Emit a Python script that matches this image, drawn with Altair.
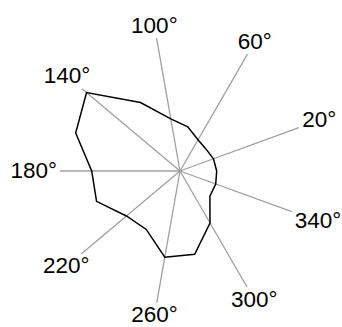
import altair as alt
import pandas as pd

# Radial profile sampled every 20 degrees (0 = east, counter-clockwise)
profile_angles = [0, 20, 40, 60, 80, 100, 120, 140, 160, 180,
                  200, 220, 240, 260, 280, 300, 320, 340]
profile_values = [36.7, 35.6, 34, 36, 44.8, 53, 79, 122, 111, 88.3,
                  88.8, 70, 67.5, 87.6, 84.5, 60, 39, 38]

# Labelled spokes and how far each one reaches
spoke_angles = [20, 60, 100, 140, 180, 220, 260, 300, 340]
spoke_extent = [126.5, 135, 135, 128, 120, 129, 134, 134, 119]
spoke_labels = [f"{a}\u00b0" for a in spoke_angles]

W, H = 342, 327
CX, CY = 180, 171  # pole position inside the view

# close the ring by repeating the first sample
profile = pd.DataFrame({
    "angle": profile_angles + [profile_angles[0]],
    "r": profile_values + [profile_values[0]],
    "order": list(range(len(profile_angles) + 1)),
})
spokes = pd.DataFrame({"angle": spoke_angles, "r": spoke_extent, "label": spoke_labels})

xs = alt.Scale(domain=[-CX, W - CX], range=[0, W], nice=False, zero=False)
ys = alt.Scale(domain=[CY - H, CY], range=[H, 0], nice=False, zero=False)

to_xy = dict(
    x="datum.r * cos(datum.angle * PI / 180)",
    y="datum.r * sin(datum.angle * PI / 180)",
)

spoke_base = alt.Chart(spokes).transform_calculate(
    **to_xy, x0="0", y0="0"
)

rules = spoke_base.mark_rule(color="#a0a0a0", strokeWidth=1.3).encode(
    x=alt.X("x0:Q", scale=xs, axis=None),
    y=alt.Y("y0:Q", scale=ys, axis=None),
    x2="x:Q",
    y2="y:Q",
)

# push each label outward until its box clears the spoke tip
labels = spoke_base.transform_calculate(
    c="cos(datum.angle * PI / 180)",
    s="sin(datum.angle * PI / 180)",
).transform_calculate(
    t="min((5.8 * length(datum.label) + 3) / abs(datum.c), 12.5 / abs(datum.s))"
).transform_calculate(
    lx="datum.x + datum.t * datum.c",
    ly="datum.y + datum.t * datum.s",
).mark_text(
    font="Liberation Sans", fontSize=22.5, color="black",
    align="center", baseline="middle",
).encode(
    x=alt.X("lx:Q", scale=xs, axis=None),
    y=alt.Y("ly:Q", scale=ys, axis=None),
    text="label:N",
)

ring = alt.Chart(profile).transform_calculate(**to_xy).mark_line(
    color="black", strokeWidth=1.5
).encode(
    x=alt.X("x:Q", scale=xs, axis=None),
    y=alt.Y("y:Q", scale=ys, axis=None),
    order="order:Q",
)

chart = alt.layer(rules, ring, labels).properties(
    width=W, height=H, autosize=alt.AutoSizeParams(type="none"), padding=0
).configure_view(stroke=None)

chart.save("out.html", embed_options={"renderer": "svg", "actions": False})
